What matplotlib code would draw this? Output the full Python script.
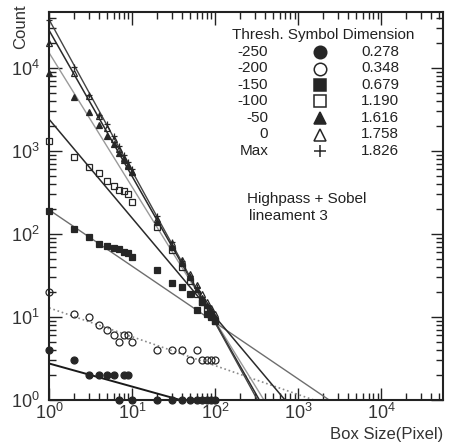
import matplotlib
matplotlib.use("Agg")
import matplotlib.pyplot as plt
import numpy as np
from matplotlib.ticker import LogLocator, NullFormatter

plt.rcParams["font.family"] = ["Liberation Sans", "DejaVu Sans"]

box_size = [1, 2, 3, 4, 5, 6, 7, 8, 9, 10, 20, 30, 40, 50, 60, 70, 80, 90, 100]

thresholds = ["-250", "-200", "-150", "-100", "-50", "0", "Max"]
dimensions = [0.278, 0.348, 0.679, 1.190, 1.616, 1.758, 1.826]
# log10 of fitted count at box size 1
intercepts = [0.44, 1.11, 2.29, 3.38, 4.18, 4.45, 4.58]

count_m250 = [4, 3, 2, 2, 2, 2, 1, 2, 2, 1, 1, 1, 1, 1, 1, 1, 1, 1, 1]
count_m200 = [20, 11, 10, 8, 7, 6, 5, 6, 6, 5, 4, 4, 4, 3, 4, 3, 3, 3, 3]
count_m150 = [190, 115, 92, 76, 72, 68, 66, 60, 59, 53, 37, 26, 23, 19, 12, 15, 11, 10, 9]
count_m100 = [1320, 850, 640, 540, 435, 380, 340, 330, 300, 245, 120, 64, 40, 27, 19, 15, 13, 11, 9]
count_m50 = [8700, 4500, 2950, 2050, 1500, 1200, 950, 780, 650, 560, 140, 70, 45, 30, 22, 17, 14, 12, 10]
count_0 = [20000, 8700, 4600, 2600, 1900, 1400, 1050, 820, 680, 560, 150, 78, 48, 33, 24, 19, 15, 13, 11]
count_max = [38000, 10200, 4700, 2700, 2100, 1500, 1150, 900, 730, 600, 165, 80, 47, 31, 23, 17, 13, 11, 9]

counts = [count_m250, count_m200, count_m150, count_m100, count_m50, count_0, count_max]

ink = "#262626"
markers = [
    dict(marker="o", mfc=ink, mec=ink),
    dict(marker="o", mfc="none", mec=ink),
    dict(marker="s", mfc=ink, mec=ink),
    dict(marker="s", mfc="none", mec=ink),
    dict(marker="^", mfc=ink, mec=ink),
    dict(marker="^", mfc="none", mec=ink),
    dict(marker="+", mfc=ink, mec=ink),
]
fit_styles = [
    dict(color="#1a1a1a", lw=1.4, ls="-"),
    dict(color="#8a8a8a", lw=1.2, ls=":"),
    dict(color="#6e6e6e", lw=1.0, ls="-"),
    dict(color="#2a2a2a", lw=1.1, ls="-"),
    dict(color="#9a9a9a", lw=1.0, ls="-"),
    dict(color="#2a2a2a", lw=1.1, ls="-"),
    dict(color="#444444", lw=1.0, ls="-"),
]

fig = plt.figure(figsize=(4.51, 4.46), dpi=100)
ax = fig.add_axes([0.109, 0.103, 0.873, 0.870])

for cnt, mk, dim, b0, st in zip(counts, markers, dimensions, intercepts, fit_styles):
    x_end = 10 ** (b0 / dim)
    xs = np.array([1.0, x_end])
    ax.plot(xs, 10 ** b0 * xs ** (-dim), **st, zorder=2)
    ax.plot(box_size, cnt, ls="none", ms=5, mew=0.9, zorder=3, clip_on=False, **mk)

ax.set_xscale("log")
ax.set_yscale("log")
ax.set_xlim(1, 5.5e4)
ax.set_ylim(1, 4.7e4)

for axis in (ax.xaxis, ax.yaxis):
    axis.set_major_locator(LogLocator(base=10, numticks=10))
    axis.set_minor_locator(LogLocator(base=10, subs=np.arange(2, 10), numticks=10))
    axis.set_minor_formatter(NullFormatter())
ax.tick_params(which="both", direction="in", top=True, right=True, colors="#222222",
               labelsize=13, width=1.0)
ax.tick_params(which="major", length=9)
ax.tick_params(which="minor", length=5)
ax.tick_params(axis="x", which="major", pad=2)
ax.tick_params(axis="y", which="major", pad=7)
for lab in ax.get_xticklabels() + ax.get_yticklabels():
    lab.set_color("#333333")
for sp in ax.spines.values():
    sp.set_linewidth(1.5)
    sp.set_color("#222222")

fig.text(0.045, 0.99, "Count", rotation=90, ha="center", va="top", fontsize=12, color="#333333")
fig.text(0.982, 0.01, "Box Size(Pixel)", ha="right", va="bottom", fontsize=12, color="#333333")

# legend table
tx = dict(transform=fig.transFigure, fontsize=11, color="#222222", va="center")
fig.text(0.515, 1 - 35 / 446, "Thresh. Symbol Dimension", ha="left", **tx)
row_y = [52, 68.5, 85, 101.5, 118, 134.5, 151]
for thr, dim, mk, y in zip(thresholds, dimensions, markers, row_y):
    yf = 1 - y / 446
    fig.text(0.595, yf, thr, ha="right", **tx)
    fig.text(0.885, yf, f"{dim:.3f}", ha="right", **tx)
    ax.plot([0.709], [yf], transform=fig.transFigure, ms=9, mew=1.1, ls="none",
            clip_on=False, **mk)

fig.text(0.548, 1 - 199 / 446, "Highpass + Sobel", ha="left", **tx)
fig.text(0.553, 1 - 216 / 446, "lineament 3", ha="left", **tx)

fig.savefig("out.png", dpi=100)
